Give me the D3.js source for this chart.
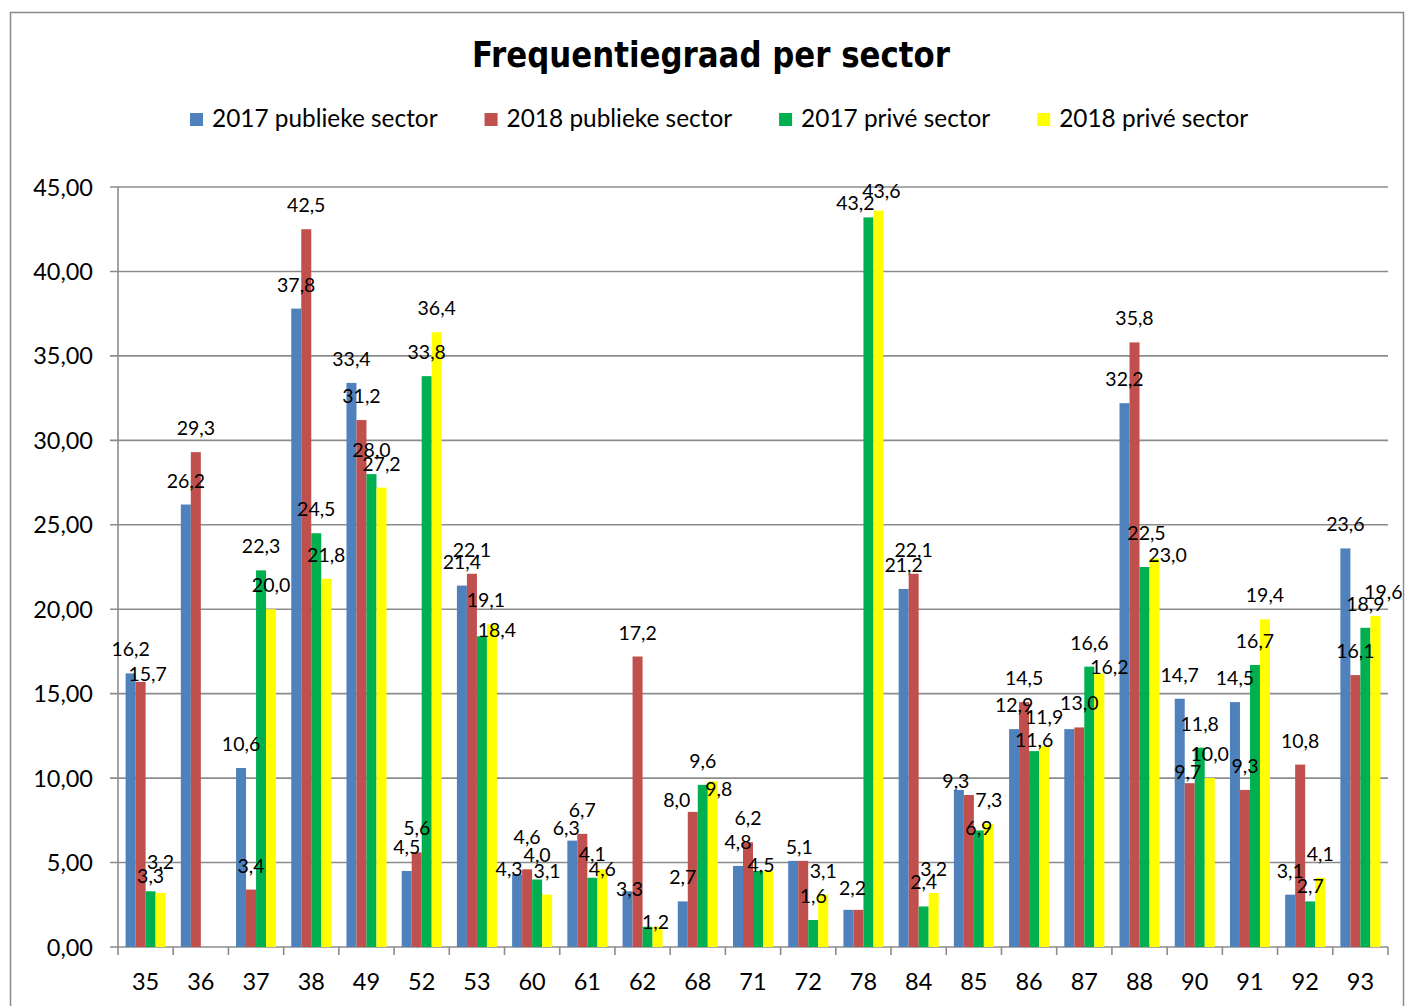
<!DOCTYPE html>
<html>
<head>
<meta charset="utf-8">
<script src="https://cdn.jsdelivr.net/npm/d3@7/dist/d3.min.js"></script>
<style>
  html, body { margin: 0; padding: 0; background: #fff; }
  svg { display: block; }
</style>
</head>
<body>
<svg id="chart" width="1405" height="1006"></svg>
<script>
// ---- data ----
const categories = ["35","36","37","38","49","52","53","60","61","62","68","71","72","78","84","85","86","87","88","90","91","92","93"];
const seriesNames = ["2017 publieke sector","2018 publieke sector","2017 privé sector","2018 privé sector"];
const pub2017  = [16.2,26.2,10.6,37.8,33.4,4.5,21.4,4.3,6.3,3.3,2.7,4.8,5.1,2.2,21.2,9.3,12.9,12.9,32.2,14.7,14.5,3.1,23.6];
const pub2018  = [15.7,29.3,3.4,42.5,31.2,5.6,22.1,4.6,6.7,17.2,8.0,6.2,5.1,2.2,22.1,9.0,14.5,13.0,35.8,9.7,9.3,10.8,16.1];
const priv2017 = [3.3,null,22.3,24.5,28.0,33.8,18.4,4.0,4.1,1.2,9.6,4.5,1.6,43.2,2.4,6.9,11.6,16.6,22.5,11.8,16.7,2.7,18.9];
const priv2018 = [3.2,null,20.0,21.8,27.2,36.4,19.1,3.1,4.6,1.2,9.8,4.5,3.1,43.6,3.2,7.3,11.9,16.2,23.0,10.0,19.4,4.1,19.6];
const yTicks = [0,5,10,15,20,25,30,35,40,45];
const hiddenLabels = ["85|1","87|0"];
const colors = ["#4F81BD","#C0504D","#00B050","#FFFF00"];
const titleText = "Frequentiegraad per sector";

// label nudges (layout only): "category|seriesIndex" -> [dx, dy]
const labelNudge = {
  "35|1":[7,16], "35|2":[0,9], "35|3":[0,-7],
  "53|2":[15,18], "53|3":[-6,0],
  "60|0":[-8,19], "60|1":[0,-8],
  "61|0":[-6,11], "61|3":[0,24],
  "62|0":[2,22], "62|2":[3,19],
  "68|1":[-16,12], "68|3":[6,32],
  "71|2":[-2,18], "72|0":[1,10], "78|0":[-1,2],
  "78|2":[-13,10], "78|3":[3,4],
  "85|0":[-3,15], "85|2":[0,22],
  "86|2":[0,13], "86|3":[0,-5],
  "87|3":[10,18],
  "88|2":[2,-10], "88|3":[13,20],
  "90|1":[-2,13], "92|2":[0,9], "93|3":[8,0]
};

const seriesValues = [pub2017, pub2018, priv2017, priv2018];

// ---- layout ----
const svg = d3.select("#chart");
const plot = {left: 118, right: 1388, top: 187, bottom: 947};
const fontMain = "Lato, 'Open Sans', sans-serif";

// outer border
svg.append("rect").attr("x", 10.5).attr("y", 12.5).attr("width", 1393).attr("height", 1000)
  .attr("fill", "none").attr("stroke", "#8a8a8a").attr("stroke-width", 1.5);

// title
svg.append("text").attr("x", 711).attr("y", 67).attr("text-anchor", "middle")
  .attr("font-family", "'DejaVu Sans', sans-serif").attr("font-weight", "bold")
  .attr("font-size", 36).attr("textLength", 478).attr("lengthAdjust", "spacingAndGlyphs")
  .attr("fill", "#000").text(titleText);

// scales
const x0 = d3.scaleBand().domain(categories).range([plot.left, plot.right])
  .paddingInner(0.2754).paddingOuter(0.2754 / 2);
const x1 = d3.scaleBand().domain(seriesNames).range([0, x0.bandwidth()]).padding(0);
const y = d3.scaleLinear().domain([0, 45]).range([plot.bottom, plot.top]);

// gridlines
svg.append("g").selectAll("line").data(yTicks).join("line")
  .attr("x1", plot.left - 8).attr("x2", plot.right)
  .attr("y1", d => y(d)).attr("y2", d => y(d))
  .attr("stroke", "#8c8c8c").attr("stroke-width", 1.6);

// y axis line
svg.append("line").attr("x1", plot.left).attr("x2", plot.left)
  .attr("y1", plot.top).attr("y2", plot.bottom)
  .attr("stroke", "#8c8c8c").attr("stroke-width", 1.6);

// y tick labels
const fmtY = v => d3.format(".2f")(v).replace(".", ",");
svg.append("g").selectAll("text").data(yTicks).join("text")
  .attr("x", 93).attr("y", d => y(d) + 8.5).attr("text-anchor", "end")
  .attr("font-family", fontMain).attr("font-size", 23.5).attr("fill", "#000")
  .text(fmtY);

// x axis ticks (category boundaries)
const boundaries = categories.map(c => x0(c) - x0.step() * x0.paddingInner() / 2)
  .concat([plot.right]);
svg.append("g").selectAll("line").data(boundaries).join("line")
  .attr("x1", d => d).attr("x2", d => d)
  .attr("y1", plot.bottom).attr("y2", plot.bottom + 8)
  .attr("stroke", "#8c8c8c").attr("stroke-width", 1.6);

// x labels
svg.append("g").selectAll("text").data(categories).join("text")
  .attr("x", d => x0(d) + x0.bandwidth() / 2).attr("y", 990)
  .attr("text-anchor", "middle")
  .attr("font-family", fontMain).attr("font-size", 23.5).attr("fill", "#000")
  .text(d => d);

// bars
const flat = [];
categories.forEach((c, i) => {
  seriesNames.forEach((s, j) => {
    const v = seriesValues[j][i];
    if (v !== null && v !== undefined) flat.push({cat: c, series: s, idx: j, value: v});
  });
});

svg.append("g").selectAll("rect").data(flat).join("rect")
  .attr("x", d => x0(d.cat) + x1(d.series))
  .attr("width", x1.bandwidth())
  .attr("y", d => y(d.value))
  .attr("height", d => y(0) - y(d.value))
  .attr("fill", d => colors[d.idx]);

// data labels: equal neighbouring values share one label centred between the bars
const fmtL = v => d3.format(".1f")(v).replace(".", ",");
const labels = [];
categories.forEach((c, i) => {
  let j = 0;
  while (j < seriesNames.length) {
    const v = seriesValues[j][i];
    if (v === null || v === undefined) { j++; continue; }
    const key = c + "|" + j;
    let span = 1;
    if (j + 1 < seriesNames.length && seriesValues[j + 1][i] === v) span = 2;
    if (!hiddenLabels.includes(key)) {
      const cx = x0(c) + x1(seriesNames[j]) + x1.bandwidth() * span / 2;
      const nd = labelNudge[key] || [0, 0];
      labels.push({x: cx + nd[0], y: y(v) - 17 + nd[1], text: fmtL(v)});
    }
    j += span;
  }
});

svg.append("g").selectAll("text").data(labels).join("text")
  .attr("x", d => d.x).attr("y", d => d.y)
  .attr("text-anchor", "middle")
  .attr("font-family", fontMain).attr("font-size", 19.5).attr("fill", "#000")
  .text(d => d.text);

// legend
const legend = svg.append("g");
let lx = 190;
seriesNames.forEach((s, j) => {
  legend.append("rect").attr("x", lx).attr("y", 113).attr("width", 13).attr("height", 13)
    .attr("fill", colors[j]);
  const t = legend.append("text").attr("x", lx + 22).attr("y", 127)
    .attr("font-family", fontMain).attr("font-size", 24.4).attr("fill", "#000").text(s);
  const w = t.node().getComputedTextLength();
  lx = lx + 22 + w + 47;
});
</script>
</body>
</html>
